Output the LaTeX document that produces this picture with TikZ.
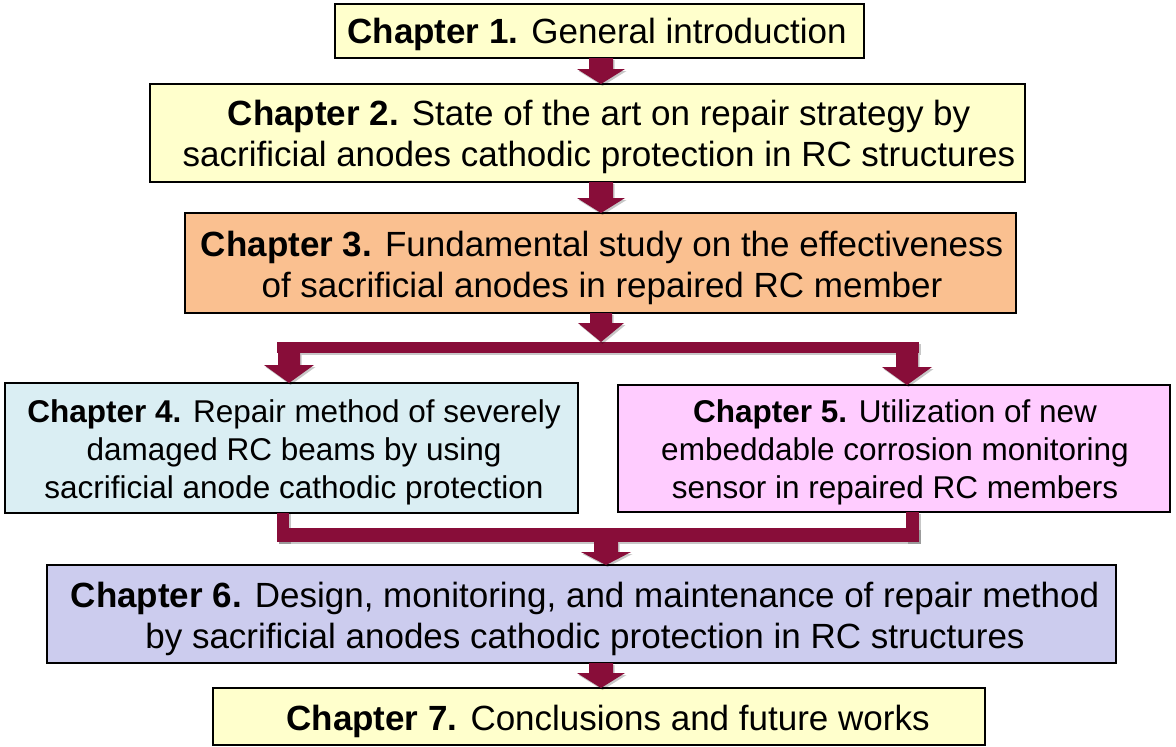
\documentclass[tikz,border=0pt]{standalone}
\usepackage{fontspec}
\setmainfont{Liberation Sans}
\usetikzlibrary{calc}

\definecolor{arrowred}{HTML}{880D39}
\definecolor{paleyellow}{HTML}{FFFFCC}
\definecolor{peach}{HTML}{FAC090}
\definecolor{paleblue}{HTML}{DAEEF3}
\definecolor{palepink}{HTML}{FFCCFF}
\definecolor{lavender}{HTML}{CCCCEE}

% vertical block arrow: #1 start point, #2 tip point, #3 half shaft width,
% #4 half head width, #5 head length; drawn with a faint shadow first
\newcommand\blockarrow[5]{%
  \foreach \dx/\dy/\fc/\op in {1.5pt/-2pt/black/0.22, 0pt/0pt/arrowred/1}{
    \path[fill=\fc, fill opacity=\op] let \p1=#1, \p2=#2 in
      (\x2-#3+\dx,\y1+\dy) -- (\x2+#3+\dx,\y1+\dy) -- (\x2+#3+\dx,\y2+#5+\dy)
      -- (\x2+#4+\dx,\y2+#5+\dy) -- (\x2+\dx,\y2+\dy) -- (\x2-#4+\dx,\y2+#5+\dy)
      -- (\x2-#3+\dx,\y2+#5+\dy) -- cycle;
  }%
}

\begin{document}
\begin{tikzpicture}[x=1pt,y=-1pt,
  chapbox/.style={draw=black, line width=1.8pt, rectangle, inner sep=0pt, outer sep=0pt},
  chaptext/.style={align=center, inner sep=0pt, font=\fontsize{35}{41}\selectfont},
  smalltext/.style={chaptext, font=\fontsize{31.5}{38}\selectfont},
  bar/.style={fill=arrowred, rectangle, inner sep=0pt, outer sep=0pt},
  barshadow/.style={fill=black, fill opacity=0.22}]

\useasboundingbox (0,0) rectangle (1176,747);
\fill[white] (0,0) rectangle (1176,747);

% chapter boxes
\node[chapbox, fill=paleyellow, minimum width=529, minimum height=54]  (b1) at (599.5,31) {};
\node[chapbox, fill=paleyellow, minimum width=875, minimum height=98]  (b2) at (587.5,133) {};
\node[chapbox, fill=peach,      minimum width=831, minimum height=100] (b3) at (600.5,263) {};
\node[chapbox, fill=paleblue,   minimum width=573, minimum height=130] (b4) at (291.5,448) {};
\node[chapbox, fill=palepink,   minimum width=552, minimum height=127] (b5) at (894,448.5) {};
\node[chapbox, fill=lavender,   minimum width=1069, minimum height=98] (b6) at (581.5,614) {};
\node[chapbox, fill=paleyellow, minimum width=772, minimum height=57]  (b7) at (599,716.5) {};

% chapter titles
\node[chaptext] (t1) at (597,34) {\textbf{Chapter 1.} General introduction};
\node[chaptext] (t2) at (599,137) {\textbf{Chapter 2.} State of the art on repair strategy by\\
  sacrificial anodes cathodic protection in RC structures};
\node[chaptext] (t3) at (602,268) {\textbf{Chapter 3.} Fundamental study on the effectiveness\\
  of sacrificial anodes in repaired RC member};
\node[smalltext] (t4) at (294,452.5) {\textbf{Chapter 4.} Repair method of severely\\
  damaged RC beams by using\\ sacrificial anode cathodic protection};
\node[smalltext] (t5) at (895,452.5) {\textbf{Chapter 5.} Utilization of new\\
  embeddable corrosion monitoring\\ sensor in repaired RC members};
\node[chaptext] (t6) at (585,619) {\textbf{Chapter 6.} Design, monitoring, and maintenance of repair method\\
  by sacrificial anodes cathodic protection in RC structures};
\node[chaptext] (t7) at (608,721) {\textbf{Chapter 7.} Conclusions and future works};

% arrow columns
\coordinate (xa) at (601,0);
\coordinate (xl) at (289,0);
\coordinate (xr) at (907,0);
\coordinate (xm) at (606,0);

% split bar below chapter 3 and merge bar above chapter 6
\fill[barshadow] (278.5,344) rectangle (920.5,355);
\node[bar, minimum width=642, minimum height=11] (bar1) at (598,347.5) {};
\fill[barshadow] (278.5,530) rectangle (920.5,544);
\fill[barshadow] (278.5,514) rectangle (290.5,544);
\fill[barshadow] (907.5,514) rectangle (920.5,544);
\node[bar, minimum width=642, minimum height=14] (bar2) at (598,535) {};
\fill[arrowred] (b4.south -| bar2.west) rectangle ($(bar2.north west)+(12,0)$);
\fill[arrowred] ($(b5.south -| bar2.east)+(-13,0)$) rectangle (bar2.north east);

% block arrows
\blockarrow{(b1.south -| xa)}{(b2.north -| xa)}{12pt}{24pt}{15pt}
\blockarrow{(b2.south -| xa)}{(b3.north -| xa)}{12pt}{24pt}{15pt}
\blockarrow{(b3.south -| xa)}{(bar1.north -| xa)}{11pt}{23pt}{19pt}
\blockarrow{(bar1.south -| xl)}{(b4.north -| xl)}{11pt}{25pt}{18pt}
\blockarrow{(bar1.south -| xr)}{(b5.north -| xr)}{11pt}{25pt}{18pt}
\blockarrow{(bar2.south -| xm)}{(b6.north -| xm)}{12pt}{25pt}{13pt}
\blockarrow{(b6.south -| xa)}{(b7.north -| xa)}{12pt}{24pt}{15pt}

\end{tikzpicture}
\end{document}
